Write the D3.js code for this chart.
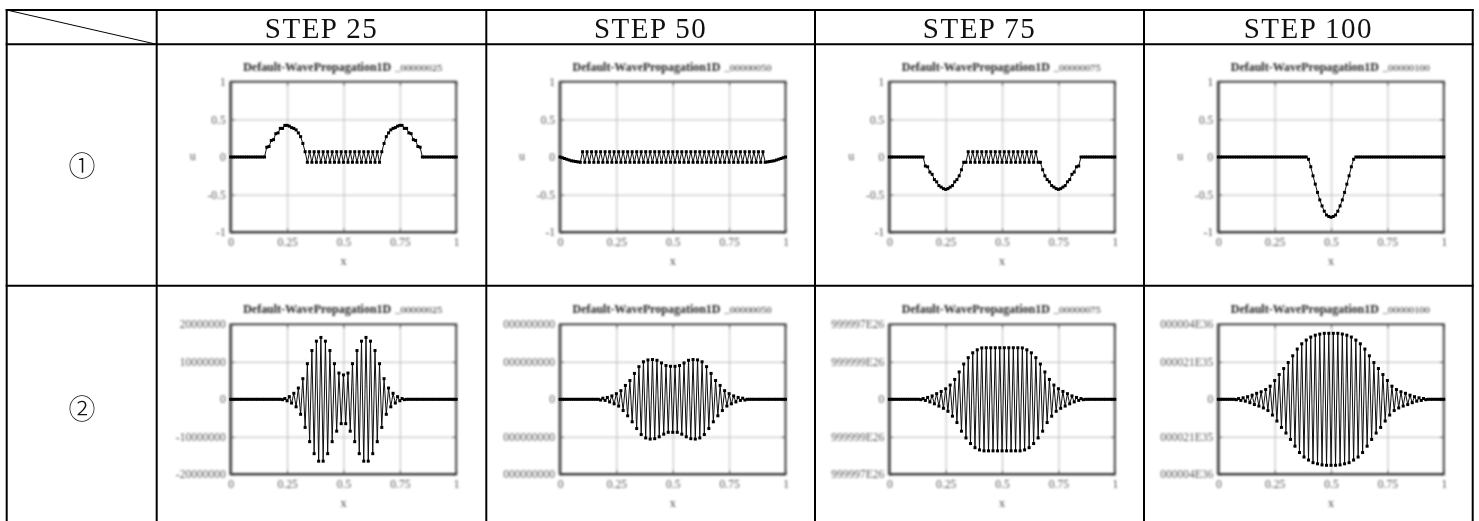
<!DOCTYPE html>
<html>
<head>
<meta charset="utf-8">
<style>
	html, body { margin: 0; padding: 0; background: #fff; }
	svg { display: block; }
	text { font-family: "Liberation Serif", serif; }
</style>
<script src="https://cdn.jsdelivr.net/npm/d3@7"></script>
</head>
<body>
<svg id="sheet" width="1479" height="521"></svg>
<script>
'use strict';
// table headers
const stepLabels = ["STEP 25", "STEP 50", "STEP 75", "STEP 100"];
const rowLabels = ["①", "②"];
const titleMain = "Default-WavePropagation1D";
const titleSteps = ["_00000025", "_00000050", "_00000075", "_00000100"];

// tick values and labels
const xTicks = [0, 0.25, 0.5, 0.75, 1];
const xTickLabels = ["0", "0.25", "0.5", "0.75", "1"];
const yTicksRow1 = [-1, -0.5, 0, 0.5, 1];
const yLabelsRow1 = ["-1", "-0.5", "0", "0.5", "1"];
const yTicksRow2 = [-2, -1, 0, 1, 2];
const yLabelsRow2 = [
	["-20000000", "-10000000", "0", "10000000", "20000000"],
	["000000000", "000000000", "0", "000000000", "000000000"],
	["999997E26", "999999E26", "0", "999999E26", "999997E26"],
	["000004E36", "000021E35", "0", "000021E35", "000004E36"]
];

// grid of the solver, 101 nodes
const xGrid = d3.range(101).map(i => i / 100);

// row 1, values
const u1Step25 = [
	0,0,0,0,0,0,0,0,0,0,0,0,0,0,0,0,
	.13,.14,.22,.23,.31,.32,.38,.38,.42,.42,.41,.39,.38,.36,.32,.27,.18,.07,
	-.07,.07,-.07,.07,-.07,.07,-.07,.07,-.07,.07,-.07,.07,-.07,.07,-.07,.07,-.07,
	.07,-.07,.07,-.07,.07,-.07,.07,-.07,.07,-.07,.07,-.07,.07,-.07,.07,-.07,
	.07,.18,.27,.32,.36,.38,.39,.41,.42,.42,.38,.38,.32,.31,.23,.22,.14,.13,
	0,0,0,0,0,0,0,0,0,0,0,0,0,0,0,0
];
const u1Step50 = [
	0,-.01,-.02,-.03,-.04,-.05,-.055,-.06,-.065,-.07,
	.07,-.07,.07,-.07,.07,-.07,.07,-.07,.07,-.07,
	.07,-.07,.07,-.07,.07,-.07,.07,-.07,.07,-.07,
	.07,-.07,.07,-.07,.07,-.07,.07,-.07,.07,-.07,
	.07,-.07,.07,-.07,.07,-.07,.07,-.07,.07,-.07,
	.07,-.07,.07,-.07,.07,-.07,.07,-.07,.07,-.07,
	.07,-.07,.07,-.07,.07,-.07,.07,-.07,.07,-.07,
	.07,-.07,.07,-.07,.07,-.07,.07,-.07,.07,-.07,
	.07,-.07,.07,-.07,.07,-.07,.07,-.07,.07,-.07,
	.07,-.07,-.065,-.06,-.055,-.05,-.04,-.03,-.02,-.01,0
];
const u1Step75 = [
	0,0,0,0,0,0,0,0,0,0,0,0,0,0,0,0,
	-.12,-.13,-.2,-.23,-.3,-.33,-.38,-.4,-.42,-.43,-.42,-.4,-.38,-.33,-.3,-.25,-.17,-.07,
	-.07,.07,-.07,.07,-.07,.07,-.07,.07,-.07,.07,-.07,.07,-.07,.07,-.07,.07,-.07,
	.07,-.07,.07,-.07,.07,-.07,.07,-.07,.07,-.07,.07,-.07,.07,-.07,.07,-.07,
	-.07,-.17,-.25,-.3,-.33,-.38,-.4,-.42,-.43,-.42,-.4,-.38,-.33,-.3,-.23,-.2,-.13,-.12,
	0,0,0,0,0,0,0,0,0,0,0,0,0,0,0,0
];
const u1Step100 = [
	0,0,0,0,0,0,0,0,0,0,0,0,0,0,0,0,0,0,0,0,
	0,0,0,0,0,0,0,0,0,0,0,0,0,0,0,0,0,0,0,0,
	-.03,-.13,-.25,-.36,-.47,-.57,-.65,-.72,-.77,-.79,-.8,
	-.79,-.77,-.72,-.65,-.57,-.47,-.36,-.25,-.13,-.03,
	0,0,0,0,0,0,0,0,0,0,0,0,0,0,0,0,0,0,0,0,
	0,0,0,0,0,0,0,0,0,0,0,0,0,0,0,0,0,0,0,0
];

// row 2, read against the printed ticks (-2 .. 2 tick units)
const u2Step25 = [
	0,0,0,0,0,0,0,0,0,0,0,0,0,0,0,0,0,0,0,0,0,0,0,
	-.01,.02,-.04,.07,-.1,.16,-.2,.3,-.4,.55,-.75,.95,-1.13,1.3,-1.45,1.55,-1.65,
	1.65,-1.65,1.55,-1.45,1.3,-1.13,.95,-.85,.7,-.65,.65,
	-.65,.7,-.85,.95,-1.13,1.3,-1.45,1.55,-1.65,1.65,
	-1.65,1.55,-1.45,1.3,-1.13,.95,-.75,.55,-.4,.3,-.2,.16,-.1,.07,-.04,.02,-.01,
	0,0,0,0,0,0,0,0,0,0,0,0,0,0,0,0,0,0,0,0,0,0,0
];
const u2Step50 = [
	0,0,0,0,0,0,0,0,0,0,0,0,0,0,0,0,0,0,
	-.02,.03,-.03,.05,-.07,.09,-.12,.15,-.18,.23,-.3,.37,-.44,.5,-.6,.69,-.78,.87,-.94,1,
	-1.03,1.05,-1.06,1.06,-1.05,1.04,-1,.97,-.93,.9,-.88,.88,-.88,
	.88,-.88,.9,-.93,.97,-1,1.04,-1.05,1.06,-1.06,1.05,-1.03,
	1,-.94,.87,-.78,.69,-.6,.5,-.44,.37,-.3,.23,-.18,.15,-.12,.09,-.07,.05,-.03,.03,-.02,
	0,0,0,0,0,0,0,0,0,0,0,0,0,0,0,0,0,0
];
const u2Step75 = [
	0,0,0,0,0,0,0,0,0,0,0,0,0,0,
	-.01,.02,-.03,.05,-.07,.09,-.12,.15,-.18,.21,-.24,.28,-.32,.38,-.45,.53,-.62,.73,-.85,.94,
	-1.03,1.11,-1.18,1.24,-1.29,1.32,-1.35,1.37,
	-1.375,1.375,-1.375,1.375,-1.375,1.375,-1.375,1.375,-1.375,
	1.375,-1.375,1.375,-1.375,1.375,-1.375,1.375,-1.375,
	1.37,-1.35,1.32,-1.29,1.24,-1.18,1.11,-1.03,
	.94,-.85,.73,-.62,.53,-.45,.38,-.32,.28,-.24,.21,-.18,.15,-.12,.09,-.07,.05,-.03,.02,-.01,
	0,0,0,0,0,0,0,0,0,0,0,0,0,0
];
const u2Step100 = [
	0,0,0,0,0,0,0,0,
	-.01,.02,-.03,.04,-.05,.07,-.09,.11,-.14,.16,-.18,.2,-.23,.26,-.3,.35,-.42,.5,-.58,.66,-.75,.82,
	-.9,.98,-1.07,1.16,-1.25,1.34,-1.42,1.48,-1.54,1.58,-1.62,1.66,-1.69,1.71,-1.72,1.74,-1.75,1.76,-1.76,1.76,-1.76,
	1.76,-1.76,1.76,-1.75,1.74,-1.72,1.71,-1.69,1.66,-1.62,1.58,-1.54,1.48,-1.42,1.34,-1.25,1.16,-1.07,.98,-.9,
	.82,-.75,.66,-.58,.5,-.42,.35,-.3,.26,-.23,.2,-.18,.16,-.14,.11,-.09,.07,-.05,.04,-.03,.02,-.01,
	0,0,0,0,0,0,0,0
];

const seriesRow1 = [u1Step25, u1Step50, u1Step75, u1Step100];
const seriesRow2 = [u2Step25, u2Step50, u2Step75, u2Step100];

// layout of the table and the pictures inside it
const colLines = [6.7, 156.7, 486.3, 815, 1144, 1472.7];
const rowLines = [10, 44.3, 285.7];
const plotLefts = [230.7, 560, 889.3, 1218.3];
const plotWidth = 225.5;

const svg = d3.select("#sheet");

// the pictures are blurry screenshots in the original
const defs = svg.append("defs");
const addBlur = (id, amount) => defs.append("filter").attr("id", id)
	.attr("filterUnits", "userSpaceOnUse")
	.attr("x", -80).attr("y", -40).attr("width", 330).attr("height", 240)
	.append("feGaussianBlur").attr("stdDeviation", amount);
addBlur("soft", 0.8);
addBlur("softWave", 0.5);

const drawPlot = (left, top, height, yDomain, yTicks, yLabels, values, stepText, showU) => {
	const x = d3.scaleLinear().domain([0, 1]).range([0, plotWidth]);
	const y = d3.scaleLinear().domain(yDomain).range([height, 0]);
	const g = svg.append("g")
		.attr("transform", `translate(${left},${top})`)
		.attr("filter", "url(#soft)");

	// grid first
	g.append("g").attr("transform", `translate(0,${height})`)
		.call(d3.axisBottom(x).tickValues(xTicks.slice(1, -1)).tickSize(-height).tickFormat(""))
		.call(a => a.select(".domain").remove())
		.selectAll("line").attr("stroke", "#bbb").attr("stroke-width", 1);
	g.append("g")
		.call(d3.axisLeft(y).tickValues(yTicks.slice(1, -1).filter(d => d != 0)).tickSize(-plotWidth).tickFormat(""))
		.call(a => a.select(".domain").remove())
		.selectAll("line").attr("stroke", "#bbb").attr("stroke-width", 1);

	// inward ticks on all four sides, labels only bottom and left
	const xLabel = d => xTickLabels[xTicks.indexOf(d)];
	const yLabel = d => yLabels[yTicks.indexOf(d)];
	const bottom = g.append("g").attr("transform", `translate(0,${height})`)
		.call(d3.axisBottom(x).tickValues(xTicks).tickSize(-4).tickPadding(6).tickFormat(xLabel));
	const topAxis = g.append("g")
		.call(d3.axisTop(x).tickValues(xTicks).tickSize(-4).tickFormat(""));
	const leftAxis = g.append("g")
		.call(d3.axisLeft(y).tickValues(yTicks).tickSize(-4).tickPadding(5).tickFormat(yLabel));
	const rightAxis = g.append("g").attr("transform", `translate(${plotWidth},0)`)
		.call(d3.axisRight(y).tickValues(yTicks).tickSize(-4).tickFormat(""));
	[bottom, topAxis, leftAxis, rightAxis].forEach(a => {
		a.select(".domain").remove();
		a.selectAll("line").attr("stroke", "#555");
		a.selectAll("text")
			.attr("font-size", 11.5)
			.attr("font-family", "Liberation Serif")
			.attr("fill", "#555");
	});

	// frame, the left side and bottom are heavier in the original
	g.append("rect")
		.attr("width", plotWidth).attr("height", height)
		.attr("fill", "none").attr("stroke", "#444").attr("stroke-width", 2);
	g.append("line")
		.attr("y2", height)
		.attr("stroke", "#555").attr("stroke-width", 3);
	g.append("line")
		.attr("y1", height).attr("y2", height).attr("x2", plotWidth)
		.attr("stroke", "#111").attr("stroke-width", 1.6);

	// title in two pieces, step number is tiny
	const titleY = -11;
	g.append("text")
		.attr("x", 12.5).attr("y", titleY)
		.attr("font-size", 12.5).attr("font-weight", "bold").attr("fill", "#222")
		.attr("textLength", 148).attr("lengthAdjust", "spacingAndGlyphs")
		.text(titleMain);
	g.append("text")
		.attr("x", 164.5).attr("y", titleY)
		.attr("font-size", 8).attr("fill", "#222")
		.attr("textLength", 47).attr("lengthAdjust", "spacingAndGlyphs")
		.text(stepText);

	g.append("text")
		.attr("x", plotWidth / 2).attr("y", height + 33)
		.attr("text-anchor", "middle")
		.attr("font-size", 12).attr("fill", "#444")
		.text("x");
	if(showU) {
		g.append("text")
			.attr("x", -38).attr("y", height / 2 + 3)
			.attr("text-anchor", "middle")
			.attr("font-size", 12).attr("fill", "#555")
			.text("u");
	}

	// the solution, less blur or the spikes melt into a grey block
	const wave = svg.append("g")
		.attr("transform", `translate(${left},${top})`)
		.attr("filter", "url(#softWave)");
	const line = d3.line().x((d, i) => x(xGrid[i])).y(d => y(d));
	wave.append("path").datum(values)
		.attr("d", line)
		.attr("fill", "none")
		.attr("stroke", "#111")
		.attr("stroke-width", 1);
	wave.append("g").selectAll("rect").data(values).join("rect")
		.attr("x", (d, i) => x(xGrid[i]) - 1.5)
		.attr("y", d => y(d) - 1.5)
		.attr("width", 3)
		.attr("height", 3)
		.attr("fill", "#000");
};

plotLefts.forEach((left, i) => {
	drawPlot(left, 81.7, 150.6, [-1, 1], yTicksRow1, yLabelsRow1, seriesRow1[i], titleSteps[i], true);
	drawPlot(left, 324.3, 150, [-2, 2], yTicksRow2, yLabelsRow2[i], seriesRow2[i], titleSteps[i], false);
});

// table lines
const table = svg.append("g").attr("stroke", "#000").attr("stroke-width", 2);
table.selectAll("line.h").data(rowLines).join("line")
	.attr("class", "h")
	.attr("x1", colLines[0] - 1).attr("x2", colLines[5] + 1)
	.attr("y1", d => d).attr("y2", d => d);
table.selectAll("line.v").data(colLines).join("line")
	.attr("class", "v")
	.attr("x1", d => d).attr("x2", d => d)
	.attr("y1", rowLines[0] - 1).attr("y2", 521);
svg.append("line")
	.attr("x1", colLines[0]).attr("y1", rowLines[0])
	.attr("x2", colLines[1]).attr("y2", rowLines[1])
	.attr("stroke", "#000").attr("stroke-width", 1);

// header text
svg.selectAll("text.step").data(stepLabels).join("text")
	.attr("class", "step")
	.attr("x", (d, i) => (colLines[i + 1] + colLines[i + 2]) / 2)
	.attr("y", 38)
	.attr("text-anchor", "middle")
	.attr("font-size", 29)
	.attr("letter-spacing", 1.5)
	.attr("fill", "#111")
	.text(d => d);

svg.selectAll("text.row").data(rowLabels).join("text")
	.attr("class", "row")
	.attr("x", 82)
	.attr("y", (d, i) => [175.5, 418.5][i])
	.attr("text-anchor", "middle")
	.attr("font-size", 27)
	.style("font-family", '"Noto Sans CJK JP"')
	.attr("font-weight", 300)
	.attr("fill", "#111")
	.text(d => d);
</script>
</body>
</html>
